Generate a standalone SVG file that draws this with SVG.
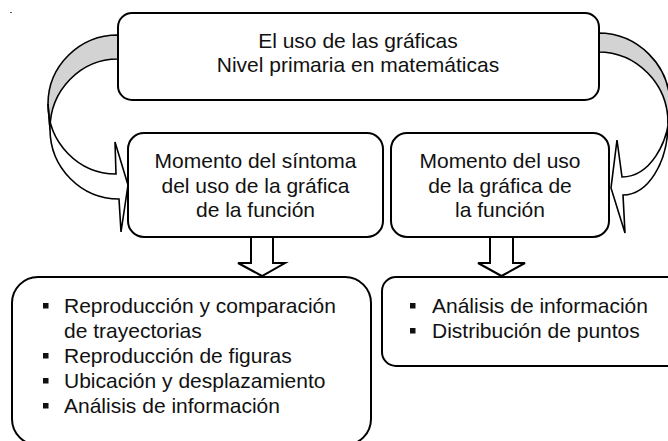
<svg xmlns="http://www.w3.org/2000/svg" width="668" height="441" viewBox="0 0 668 441">
<style>
.box{fill:#fff;stroke:#000;stroke-width:2}
.back{fill:#d3d3d3;stroke:#000;stroke-width:1.6;stroke-linejoin:round}
.front{fill:#fff;stroke:#000;stroke-width:1.6;stroke-linejoin:miter}
.blk{fill:#fff;stroke:#000;stroke-width:2}
text{font-family:"Liberation Sans",Arial,sans-serif;font-size:21px;fill:#111}
.c{text-anchor:middle}
.b{fill:#111}
</style>
<rect x="10" y="12" width="2" height="1" fill="#555"/>
<g id="connectors">
  <g id="curve-left">
    <path class="back" d="M118,35 A70,69 0 0 0 48,104 L50,129 A68,70 0 0 1 118,59 Z"/>
    <path class="front" d="M48,104 A68,70 0 0 0 116,174 L115,142 L128,185 L121,232 L119,199 A69,70 0 0 1 50,129 Z"/>
  </g>
  <g id="curve-right">
    <path class="back" d="M598,33 A72,72 0 0 1 670,105 L668,123 A70,71 0 0 0 598,52 Z"/>
    <path class="front" d="M670,105 A48,72 0 0 1 622,177 L617,140 L611,188 L625,233 L623,195 A45,72 0 0 0 668,123 Z"/>
  </g>
  <path id="down-left" class="blk" d="M251,237 V263 H238 L262,276 L285,263 H273 V237"/>
  <path id="down-right" class="blk" d="M490,237 V263 H478 L501.5,276 L525,263 H513 V237"/>
</g>
<g id="top">
  <rect class="box" x="118" y="13" width="481" height="87" rx="14"/>
  <text class="c" x="358" y="48">El uso de las gráficas</text>
  <text class="c" x="358" y="72">Nivel primaria en matemáticas</text>
</g>
<g id="mid-left">
  <rect class="box" x="128" y="133" width="255" height="104" rx="16"/>
  <text class="c" x="255.5" y="168">Momento del síntoma</text>
  <text class="c" x="255.5" y="192.5">del uso de la gráfica</text>
  <text class="c" x="255.5" y="217">de la función</text>
</g>
<g id="mid-right">
  <rect class="box" x="391" y="133" width="218" height="104" rx="16"/>
  <text class="c" x="500" y="168">Momento del uso</text>
  <text class="c" x="500" y="192.5">de la gráfica de</text>
  <text class="c" x="500" y="217">la función</text>
</g>
<g id="bottom-left">
  <rect class="box" x="12" y="277" width="359" height="168" rx="26"/>
  <rect class="b" x="43" y="303" width="5.5" height="5.5"/>
  <text x="64" y="313">Reproducción y comparación</text>
  <text x="64" y="338">de trayectorias</text>
  <rect class="b" x="43" y="353" width="5.5" height="5.5"/>
  <text x="64" y="363">Reproducción de figuras</text>
  <rect class="b" x="43" y="378" width="5.5" height="5.5"/>
  <text x="64" y="388">Ubicación y desplazamiento</text>
  <rect class="b" x="43" y="403" width="5.5" height="5.5"/>
  <text x="64" y="413">Análisis de información</text>
</g>
<g id="bottom-right">
  <rect class="box" x="382" y="277" width="300" height="89" rx="14"/>
  <rect class="b" x="410" y="303" width="5.5" height="5.5"/>
  <text x="432" y="313">Análisis de información</text>
  <rect class="b" x="410" y="328" width="5.5" height="5.5"/>
  <text x="432" y="338">Distribución de puntos</text>
</g>
</svg>
